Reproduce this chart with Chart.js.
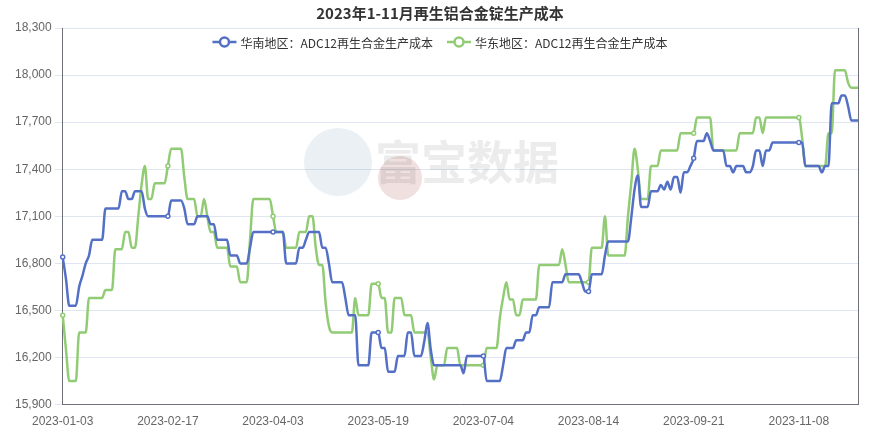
<!DOCTYPE html>
<html><head><meta charset="utf-8">
<script src="https://cdn.jsdelivr.net/npm/chart.js@4"></script>
<style>html,body{margin:0;padding:0;background:#fff}#w{width:880px;height:431px}</style>
</head><body><div id="w"><canvas id="c"></canvas></div>
<script>
const tickLabels = ['2023-01-03','2023-02-17','2023-04-03','2023-05-19','2023-07-04','2023-08-14','2023-09-21','2023-11-08'];
const southValues = [
16840,16700,16530,16530,16530,16650,16720,16800,16850,16950,
16950,16950,16950,17150,17150,17150,17150,17150,17260,17260,
17210,17210,17260,17260,17260,17150,17100,17100,17100,17100,
17100,17100,17100,17200,17200,17200,17200,17150,17050,17050,
17050,17100,17100,17100,17100,17050,17050,16950,16950,16950,
16950,16850,16850,16850,16800,16800,16800,16900,17000,17000,
17000,17000,17000,17000,17000,17000,17000,17000,16800,16800,
16800,16800,16900,16900,16950,17000,17000,17000,17000,16900,
16900,16800,16680,16680,16680,16680,16580,16470,16470,16470,
16150,16150,16150,16150,16360,16360,16360,16260,16260,16110,
16110,16110,16210,16210,16210,16360,16360,16210,16210,16210,
16300,16420,16250,16150,16150,16150,16150,16150,16150,16150,
16150,16150,16100,16210,16210,16210,16210,16210,16210,16050,
16050,16050,16050,16050,16150,16260,16260,16260,16310,16310,
16310,16360,16360,16470,16470,16520,16520,16520,16520,16680,
16680,16680,16680,16730,16730,16730,16730,16730,16680,16620,
16620,16730,16730,16730,16730,16850,16940,16940,16940,16940,
16940,16940,16940,17090,17270,17360,17160,17160,17160,17260,
17260,17260,17300,17270,17320,17270,17350,17350,17250,17380,
17380,17420,17470,17580,17580,17580,17630,17580,17520,17520,
17520,17520,17420,17420,17380,17420,17420,17420,17380,17380,
17420,17520,17520,17420,17520,17520,17570,17570,17570,17570,
17570,17570,17570,17570,17570,17570,17420,17420,17420,17420,
17420,17380,17420,17420,17820,17820,17820,17870,17870,17800,
17710,17710,17710];
const eastValues = [
16470,16250,16050,16050,16050,16360,16360,16360,16580,16580,
16580,16580,16580,16630,16630,16630,16890,16890,16890,17000,
17000,16900,16900,17100,17300,17420,17210,17210,17310,17310,
17310,17310,17420,17530,17530,17530,17530,17350,17210,17210,
17210,17100,17100,17210,17100,17000,17000,16900,16900,16900,
16900,16780,16780,16780,16680,16680,16680,16950,17210,17210,
17210,17210,17210,17210,17100,17000,17000,17000,16900,16900,
16900,16900,17000,17000,17000,17100,17100,16900,16790,16790,
16550,16400,16360,16360,16360,16360,16360,16360,16360,16580,
16470,16470,16470,16470,16670,16670,16670,16580,16580,16360,
16360,16580,16580,16580,16470,16470,16470,16360,16360,16360,
16360,16360,16200,16060,16150,16150,16150,16260,16260,16260,
16260,16150,16150,16150,16150,16150,16150,16150,16150,16260,
16260,16260,16260,16450,16580,16680,16570,16570,16470,16470,
16570,16570,16570,16570,16570,16790,16790,16790,16790,16790,
16790,16790,16890,16790,16680,16680,16680,16680,16680,16680,
16680,16900,16900,16900,16900,17100,16850,16850,16850,16850,
16850,16850,17100,17310,17530,17400,17210,17210,17210,17420,
17420,17420,17520,17520,17520,17520,17520,17520,17630,17630,
17630,17630,17630,17730,17730,17730,17730,17730,17520,17520,
17520,17520,17520,17520,17520,17520,17630,17630,17630,17630,
17630,17730,17730,17630,17730,17730,17730,17730,17730,17730,
17730,17730,17730,17730,17730,17600,17420,17420,17420,17420,
17420,17420,17420,17630,17630,18030,18030,18030,18030,17950,
17920,17920,17920];
const categories = southValues.map((_, i) => i);
const TICK_EVERY = 32;
const ptRadius = categories.map(i => i % TICK_EVERY === 0 ? 2 : 0);
const TITLE = '2023年1-11月再生铝合金锭生产成本';
const FONT = '"Noto Sans CJK SC"';

const extras = {
  id: 'extras',
  beforeDatasetsDraw(chart) {
    const {ctx} = chart;
    ctx.save();
    ctx.globalAlpha = 0.10;
    ctx.fillStyle = '#3b6fa0';
    ctx.beginPath(); ctx.arc(338, 162, 34, 0, Math.PI*2); ctx.fill();
    ctx.globalAlpha = 0.16;
    ctx.fillStyle = '#a0403a';
    ctx.beginPath(); ctx.arc(400, 178, 22, 0, Math.PI*2); ctx.fill();
    ctx.globalAlpha = 0.10;
    ctx.fillStyle = '#444';
    ctx.font = 'bold 46px ' + FONT;
    ctx.textBaseline = 'middle';
    ctx.fillText('富宝数据', 375, 162);
    ctx.restore();
  },
  afterDraw(chart) {
    const {ctx, chartArea: a} = chart;
    ctx.save();
    ctx.strokeStyle = '#6e7079';
    ctx.lineWidth = 1;
    ctx.beginPath(); ctx.moveTo(a.right + 0.5, a.top); ctx.lineTo(a.right + 0.5, a.bottom); ctx.stroke();
    // title
    ctx.fillStyle = '#333';
    ctx.font = 'bold 15px ' + FONT;
    ctx.textAlign = 'center'; ctx.textBaseline = 'middle';
    ctx.fillText(TITLE, 440, 13);
    // legend
    ctx.font = '12px ' + FONT;
    ctx.textAlign = 'left';
    const items = chart.data.datasets.map(d => ({t: d.label, c: d.borderColor}));
    const gap = 14, icon = 24;
    const widths = items.map(it => icon + 4 + ctx.measureText(it.t).width);
    let total = widths.reduce((s, w) => s + w, 0) + gap * (items.length - 1);
    let x = 440 - total / 2;
    const y = 42;
    items.forEach((it, k) => {
      ctx.strokeStyle = it.c; ctx.lineWidth = 2.5;
      ctx.beginPath(); ctx.moveTo(x, y); ctx.lineTo(x + icon, y); ctx.stroke();
      ctx.fillStyle = '#fff';
      ctx.beginPath(); ctx.arc(x + icon / 2, y, 4.5, 0, Math.PI * 2); ctx.fill(); ctx.stroke();
      ctx.fillStyle = '#333';
      ctx.fillText(it.t, x + icon + 4, y + 1);
      x += widths[k] + gap;
    });
    ctx.restore();
  }
};

const ds = (label, data, color) => ({
  label, data, borderColor: color, backgroundColor: '#fff',
  borderWidth: 2.5, pointRadius: ptRadius, pointHoverRadius: 3,
  pointBorderWidth: 1.5, pointBorderColor: color, pointStyle: 'circle',
  tension: 0.4, cubicInterpolationMode: 'monotone', fill: false
});

new Chart(document.getElementById('c'), {
  type: 'line',
  data: {
    labels: categories,
    datasets: [
      ds('华南地区：ADC12再生合金生产成本', southValues, '#5470c6'),
      ds('华东地区：ADC12再生合金生产成本', eastValues, '#91cc75')
    ]
  },
  options: {
    responsive: true, maintainAspectRatio: false, animation: false,
    layout: { padding: { left: 12, right: 22, top: 28, bottom: 0 } },
    plugins: {
      title: { display: false },
      legend: { display: false },
      tooltip: { enabled: false }
    },
    scales: {
      x: {
        grid: { display: false },
        border: { color: '#6e7079' },
        ticks: { autoSkip: false, maxRotation: 0, color: '#666', font: { size: 12 }, padding: 2,
          callback: (v, i) => i % TICK_EVERY === 0 ? tickLabels[i / TICK_EVERY] : null }
      },
      y: {
        min: 15900, max: 18300,
        grid: { color: '#e0e6f1' },
        border: { display: true, color: '#6e7079' },
        ticks: { stepSize: 300, color: '#666', font: { size: 12 },
          callback: v => v.toLocaleString('en-US') }
      }
    }
  },
  plugins: [extras]
});
</script></body></html>
